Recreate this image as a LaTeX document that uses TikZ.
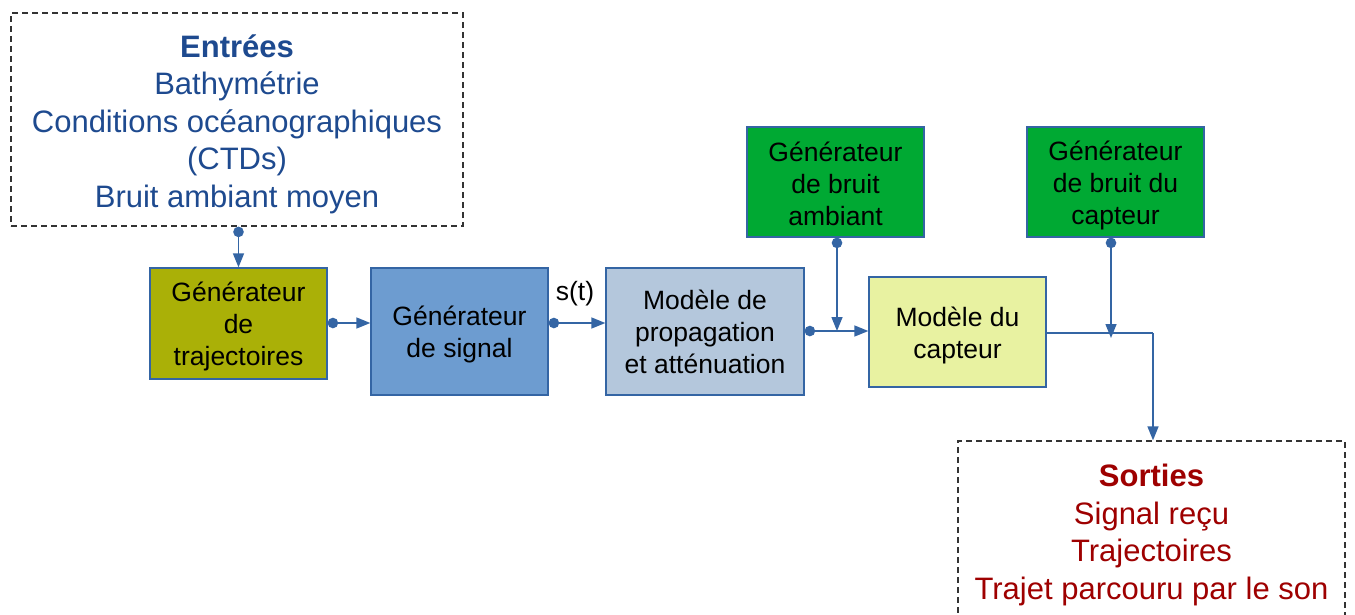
\documentclass[tikz,border=0pt]{standalone}
\usepackage{fontspec}
\setmainfont{Liberation Sans}
\usetikzlibrary{arrows.meta}
\definecolor{linecol}{HTML}{3465A4}
\definecolor{incol}{HTML}{1E4A8F}
\definecolor{outcol}{HTML}{9E0000}
\definecolor{olive}{HTML}{AAB007}
\definecolor{sigblue}{HTML}{6D9CD0}
\definecolor{propblue}{HTML}{B4C7DC}
\definecolor{capcol}{HTML}{E8F2A1}
\definecolor{gencol}{HTML}{00A933}
\newcommand\lowr[1]{\rule{0pt}{#1pt}}
\begin{document}
\begin{tikzpicture}[x=1pt,y=-1pt,
  box/.style={draw=linecol, line width=1.3pt, inner sep=0pt, align=center,
    font=\fontsize{26.5}{32}\selectfont},
  iobox/.style={draw=black!80, dashed, dash pattern=on 6pt off 4pt, line width=1.3pt,
    inner sep=0pt, align=center, font=\fontsize{31}{37.5}\selectfont},
  conn/.style={draw=linecol, line width=1.5pt,
    {Circle[length=10.5pt,width=10.5pt]}-{Triangle[length=14pt,width=11pt]}},
  plainconn/.style={draw=linecol, line width=1.5pt, -{Triangle[length=14pt,width=11pt]}},
  seg/.style={draw=linecol, line width=1.5pt}]
\useasboundingbox (0,0) rectangle (1355,614);
\clip (0,0) rectangle (1355,614);

\node[iobox, text=incol, minimum width=452pt, minimum height=213pt] (in) at (237,119.5)
  {\lowr{32}\textbf{Entrées}\\Bathymétrie\\Conditions océanographiques\\(CTDs)\\Bruit ambiant moyen};

\node[box, fill=olive, minimum width=177pt, minimum height=111pt] (traj) at (238.5,323.5)
  {\lowr{25.7}Générateur\\de\\trajectoires};
\node[box, fill=sigblue, minimum width=177pt, minimum height=127pt] (sig) at (459.5,331.5)
  {\lowr{25.7}Générateur\\de signal};
\node[box, fill=propblue, minimum width=198pt, minimum height=127pt] (prop) at (705,331.5)
  {Modèle de\\propagation\\et atténuation};
\node[box, fill=gencol, minimum width=177pt, minimum height=110pt] (amb) at (835.5,182)
  {\lowr{24}Générateur\\de bruit\\ambiant};
\node[box, fill=capcol, minimum width=177pt, minimum height=110pt] (cap) at (957.5,332)
  {\lowr{25.7}Modèle du\\capteur};
\node[box, fill=gencol, minimum width=177pt, minimum height=110pt] (bcap) at (1115.5,182)
  {\lowr{25.7}Générateur\\de bruit du\\capteur};

\node[iobox, text=outcol, minimum width=387pt, minimum height=180pt] (out) at (1151.5,531)
  {\lowr{30}\textbf{Sorties}\\Signal reçu\\Trajectoires\\Trajet parcouru par le son};

\node[font=\fontsize{26.5}{32}\selectfont, inner sep=0pt] (st) at (575,294) {s(t)};

% connectors
\draw[conn] (in.south -| traj.north) -- (traj.north);
\draw[conn] (traj.east |- 0,323) -- (sig.west |- 0,323);
\draw[conn] (sig.east |- 0,323) -- (prop.west |- 0,323);
\coordinate (j1) at (837,331);
\draw[conn] (prop.east |- j1) -- (cap.west |- j1);
\draw[conn] (amb.south -| j1) -- (j1);
\coordinate (j2) at (1111,333);
\draw[conn] (bcap.south -| j2) -- ([yshift=-5pt]j2);
\coordinate (turn) at (1153,333);
\draw[seg] (cap.east |- turn) -- (turn);
\draw[plainconn] (turn) -- (out.north -| turn);
\end{tikzpicture}
\end{document}
